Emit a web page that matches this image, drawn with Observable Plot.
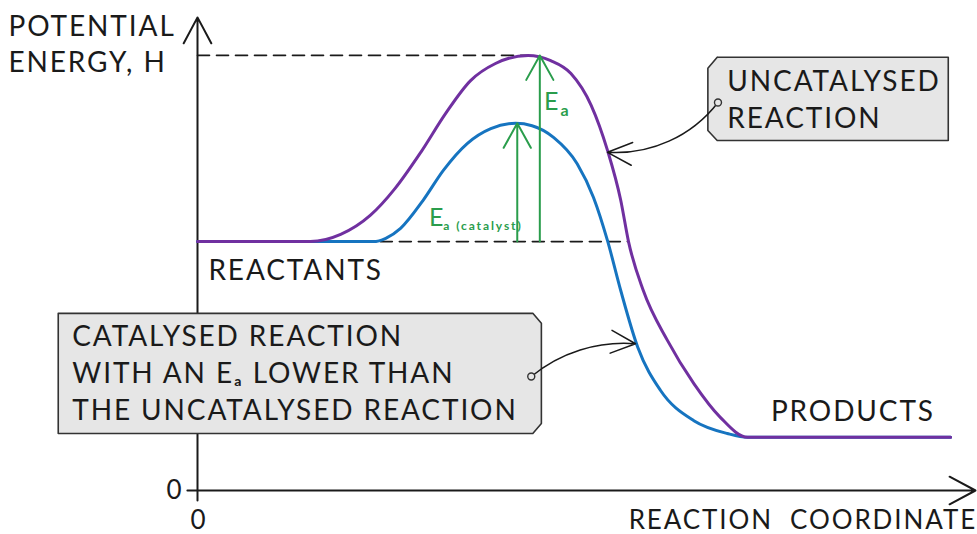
<!DOCTYPE html>
<html><head><meta charset="utf-8">
<script src="https://cdn.jsdelivr.net/npm/d3@7"></script>
<script src="https://cdn.jsdelivr.net/npm/@observablehq/plot@0.6"></script>
<style>body{margin:0;background:#fff} svg{display:block}</style>
</head><body><div id="chart"></div>
<script>
// Reaction coordinate (0–100) and potential energy (0–100), arbitrary units
const uncatX = [0,14.5,18.4,22.2,25.4,28.7,31.9,35.1,38.3,42.5,45.4,48.0,50.6,52.7,54.4,55.4,57.3,60.4,63.8,67.2,70.7,96.8];
const uncatH = [52.4,52.4,53.9,57.9,63.6,71.2,79.4,86.3,89.9,91.6,90.5,87.8,81.1,71.6,61.1,52.4,42.1,31.6,22.5,15.4,11.2,11.2];
const catX = [0,22.6,24.2,26.1,29.0,31.6,34.7,37.7,40.9,43.0,45.8,48.8,50.9,52.7,54.4,56.6,59.5,63.8,68.1,70.7,96.8];
const catH = [52.4,52.4,53.1,55.2,61.1,67.4,73.1,76.2,77.3,76.8,74.3,68.8,61.7,52.6,42.1,30.1,21.1,14.7,12.0,11.2,11.2];

const reactantsH = 52.4, productsH = 11.2;
const uncatPeak = {x: 42.5, h: 91.6};
const catPeak = {x: 40.9, h: 77.3};

const axisLabels = ["POTENTIAL", "ENERGY, H", "REACTION  COORDINATE", "0", "0"];
const levelLabels = ["REACTANTS", "PRODUCTS"];
const uncatBoxLines = ["UNCATALYSED", "REACTION"];
const catBoxLines = ["CATALYSED REACTION", "WITH AN E\u2090 LOWER THAN", "THE UNCATALYSED REACTION"];

const purple = "#7030a0", blue = "#1674c0", green = "#2a9d4c", ink = "#1a1a1a";
const font = "Lato, 'DejaVu Sans', sans-serif";

const purpleData = uncatX.map((x, i) => ({x, h: uncatH[i]}));
const blueData = catX.map((x, i) => ({x, h: catH[i]}));

const dashed = [
  {x: 0, h: uncatPeak.h, k: "top"}, {x: uncatPeak.x, h: uncatPeak.h, k: "top"},
  {x: 23.5, h: reactantsH, k: "base"}, {x: 55.3, h: reactantsH, k: "base"}
];

const axes = [
  {x1: 0, y1: -2.1, x2: 0, y2: 99.6},
  {x1: -1.3, y1: 0, x2: 100, y2: 0}
];
const eaArrows = [
  {x1: 44.0, y1: reactantsH, x2: 44.0, y2: uncatPeak.h},
  {x1: 41.1, y1: reactantsH, x2: 41.1, y2: catPeak.h}
];

const uncatBox = [
  {x: 66.8, h: 91.2}, {x: 96.5, h: 91.2}, {x: 96.5, h: 73.7}, {x: 66.8, h: 73.7},
  {x: 65.6, h: 75.8}, {x: 65.6, h: 88.9}, {x: 66.8, h: 91.2}
];
const catBox = [
  {x: -17.9, h: 37.3}, {x: 43.1, h: 37.3}, {x: 44.2, h: 35.2}, {x: 44.2, h: 14.1},
  {x: 43.1, h: 12.0}, {x: -17.9, h: 12.0}, {x: -17.9, h: 37.3}
];
const pins = [{x: 66.9, h: 81.7}, {x: 42.9, h: 24.0}];
const calloutUncat = [{x1: 66.9, y1: 81.7, x2: 52.7, y2: 71.2}];
const calloutCat = [{x1: 42.9, y1: 24.0, x2: 56.3, y2: 30.9}];

const txt = {fill: ink, fontSize: 28, text: d => d};

const chart = Plot.plot({
  width: 977, height: 534, margin: 0,
  x: {domain: [0, 100], range: [197, 975], axis: null},
  y: {domain: [0, 100], range: [490, 15], axis: null},
  style: {fontFamily: font, background: "#fff", color: ink, letterSpacing: "1.9px"},
  marks: [
    Plot.arrow(axes, {x1: "x1", y1: "y1", x2: "x2", y2: "y2", stroke: ink, strokeWidth: 2, headLength: 22, headAngle: 56}),
    Plot.line(dashed, {x: "x", y: "h", z: "k", stroke: ink, strokeWidth: 1.6, strokeDasharray: "12,7"}),
    Plot.line(blueData, {x: "x", y: "h", stroke: blue, strokeWidth: 3, curve: "monotone-x"}),
    Plot.line(purpleData, {x: "x", y: "h", stroke: purple, strokeWidth: 3, curve: "monotone-x"}),
    Plot.arrow(eaArrows, {x1: "x1", y1: "y1", x2: "x2", y2: "y2", stroke: green, strokeWidth: 2, headLength: 21, headAngle: 58}),
    Plot.line(uncatBox, {x: "x", y: "h", stroke: "#333", strokeWidth: 1.6, fill: "#e6e6e6"}),
    Plot.line(catBox, {x: "x", y: "h", stroke: "#333", strokeWidth: 1.6, fill: "#e6e6e6"}),
    Plot.arrow(calloutUncat, {x1: "x1", y1: "y1", x2: "x2", y2: "y2", bend: 28, stroke: ink, strokeWidth: 1.5, headLength: 27, headAngle: 50}),
    Plot.arrow(calloutCat, {x1: "x1", y1: "y1", x2: "x2", y2: "y2", bend: 22, stroke: ink, strokeWidth: 1.5, headLength: 27, headAngle: 50}),
    Plot.dot(pins, {x: "x", y: "h", r: 3.5, fill: "#e6e6e6", stroke: "#333", strokeWidth: 1.4}),
    // axis texts
    Plot.text([axisLabels[0]], {...txt, x: -24.3, y: 97.6, textAnchor: "start"}),
    Plot.text([axisLabels[1]], {...txt, x: -24.3, y: 89.9, textAnchor: "start"}),
    Plot.text([axisLabels[2]], {...txt, fontSize: 26, x: 100.2, y: -6.3, textAnchor: "end"}),
    Plot.text([axisLabels[3]], {...txt, fontSize: 26, x: 0.2, y: -6.3}),
    Plot.text([axisLabels[4]], {...txt, fontSize: 26, x: -1.8, y: 0, textAnchor: "end"}),
    // levels
    Plot.text([levelLabels[0]], {...txt, x: 1.4, y: 46.1, textAnchor: "start"}),
    Plot.text([levelLabels[1]], {...txt, x: 73.7, y: 16.6, textAnchor: "start"}),
    // boxes
    Plot.text(uncatBoxLines, {...txt, x: 68.1, y: (d, i) => [85.9, 78.3][i], textAnchor: "start"}),
    Plot.text(catBoxLines, {...txt, x: -16.1, y: (d, i) => [32.4, 24.6, 16.8][i], textAnchor: "start"}),
    // Ea labels
    Plot.text(["E"], {x: 45.6, y: 81.8, text: d => d, fontSize: 25, fill: green}),
    Plot.text(["a"], {x: 47.3, y: 80.0, text: d => d, fontSize: 16, fontWeight: "bold", fill: green}),
    Plot.text(["E"], {x: 30.8, y: 57.3, text: d => d, fontSize: 25, fill: green}),
    Plot.text(["a (catalyst)"], {x: 31.6, y: 55.6, text: d => d, textAnchor: "start", fontSize: 12, fontWeight: "bold", fill: green})
  ]
});
document.getElementById("chart").appendChild(chart);
</script>
</body></html>
